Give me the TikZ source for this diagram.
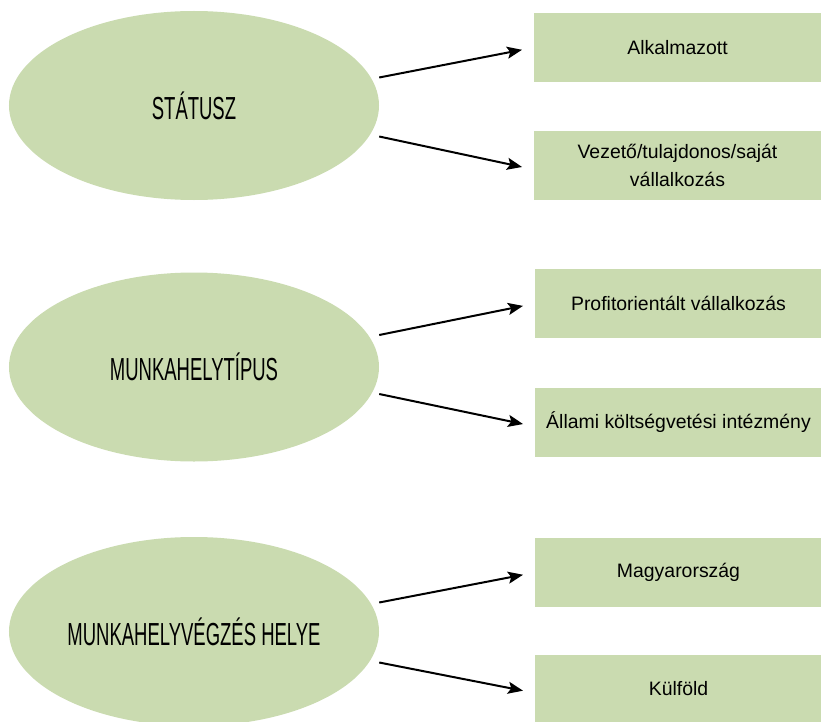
\documentclass[tikz,border=0pt]{standalone}
\usepackage{fontspec}
\setmainfont{Liberation Sans}
\newfontfamily\ellfont[FakeStretch=0.58]{Liberation Sans}
\usetikzlibrary{shapes.geometric,arrows.meta}
\definecolor{lightgreen}{RGB}{202,219,176}

\begin{document}
\begin{tikzpicture}[x=1bp,y=-1bp,>={Stealth[length=15bp,width=12bp,inset=3bp]},
	ellnode/.style={ellipse,fill=lightgreen,minimum width=370bp,minimum height=189bp,inner sep=0pt,font=\ellfont\fontsize{32}{36}\selectfont},
	boxnode/.style={rectangle,fill=lightgreen,minimum width=287bp,minimum height=69bp,inner sep=0pt,align=center,font=\fontsize{19.5}{27.5}\selectfont},
	arr/.style={->,line width=2bp,shorten >=12bp}]
	
	\useasboundingbox (0,0) rectangle (821,722);
	
	% ellipses
	\node [ellnode] (e1) at (194, 105.5) {STÁTUSZ};
	\node [ellnode] (e2) at (194, 367) {MUNKAHELYTÍPUS};
	\node [ellnode] (e3) at (194, 631.5) {MUNKAHELYVÉGZÉS HELYE};
	
	% boxes
	\node [boxnode] (b1) at (677.5, 47.5) {Alkalmazott};
	\node [boxnode] (b2) at (677.5, 165.5) {Vezető/tulajdonos/saját\\vállalkozás};
	\node [boxnode] (b3) at (678.5, 303.5) {Profitorientált vállalkozás};
	\node [boxnode] (b4) at (678.5, 422.5) {Állami költségvetési intézmény};
	\node [boxnode] (b5) at (678.5, 572.5) {Magyarország};
	\node [boxnode] (b6) at (678.5, 689) {Külföld};
	
	\draw [arr] ([yshift=28bp]e1.east) to (b1.west);
	\draw [arr] ([yshift=-31bp]e1.east) to ([yshift=-4bp]b2.west);
	\draw [arr] ([yshift=32bp]e2.east) to (b3.west);
	\draw [arr] ([yshift=-27bp]e2.east) to ([yshift=-4bp]b4.west);
	\draw [arr] ([yshift=29bp]e3.east) to (b5.west);
	\draw [arr] ([yshift=-31bp]e3.east) to ([yshift=-4bp]b6.west);
\end{tikzpicture}
\end{document}
